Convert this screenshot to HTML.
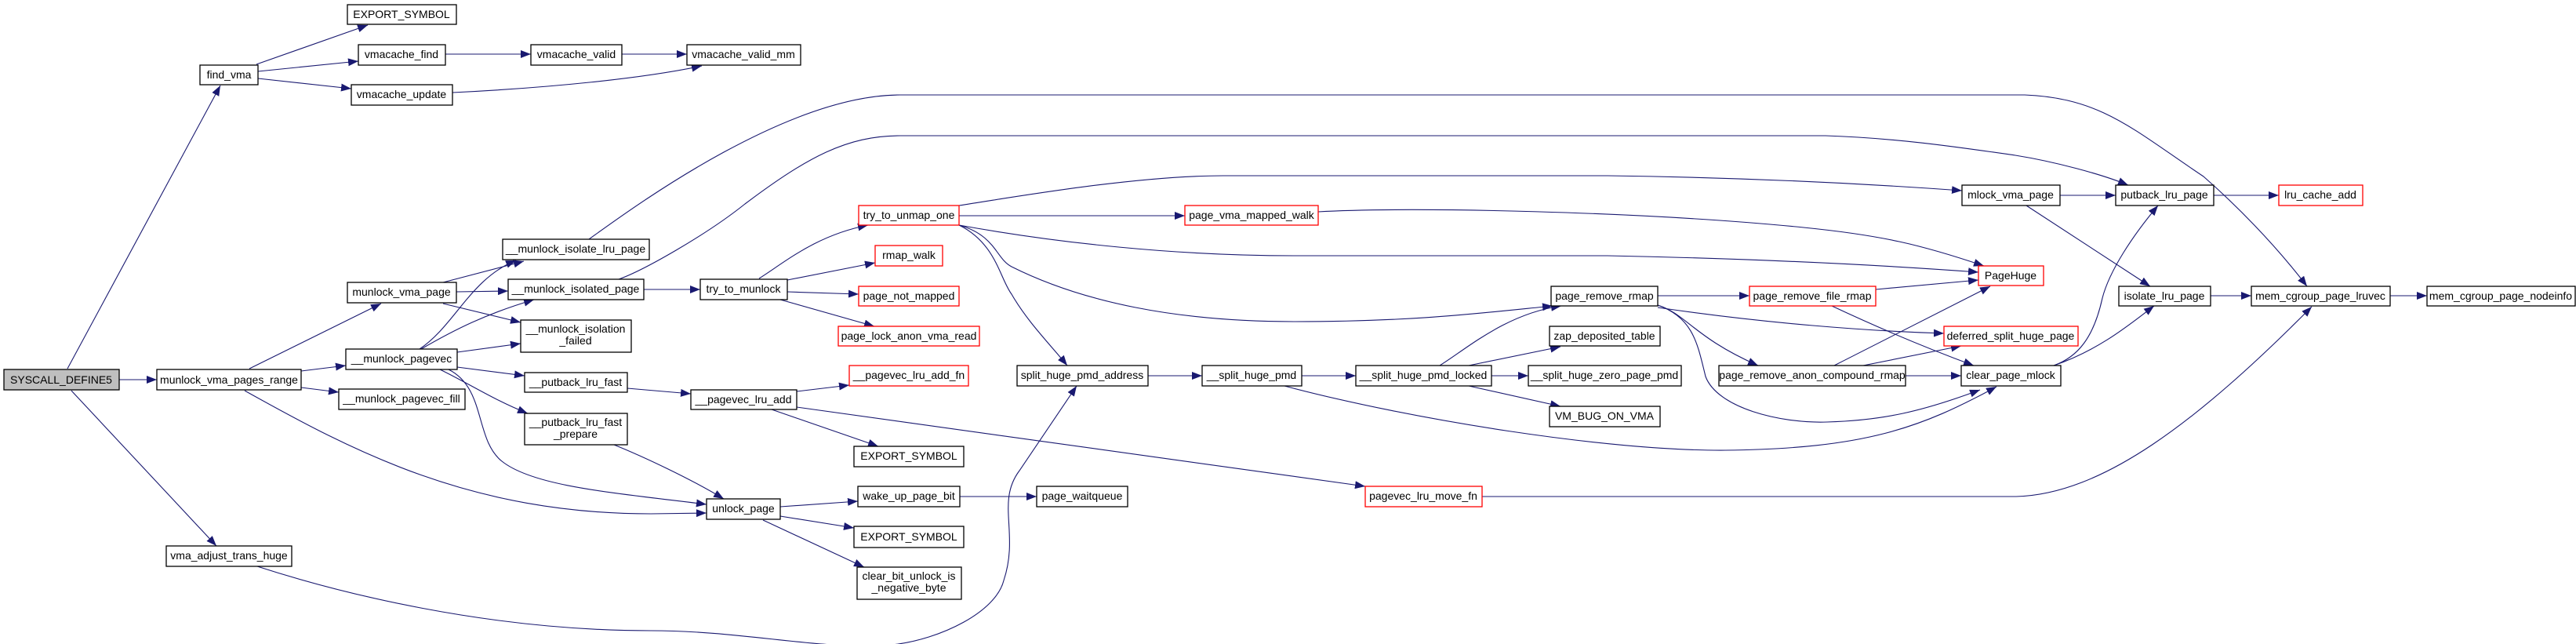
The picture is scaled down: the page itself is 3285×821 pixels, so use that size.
<!DOCTYPE html>
<html><head><meta charset="utf-8"><style>
html,body{margin:0;padding:0;background:#fff;}
svg{display:block;}
text{font-family:"Liberation Sans",sans-serif;font-size:14px;fill:#000;text-anchor:middle;}
.n{fill:#fff;stroke:#000;stroke-width:1.3;}
.r{fill:#fff;stroke:#ff0000;stroke-width:1.3;}
.g{fill:#bfbfbf;stroke:#000;stroke-width:1.3;}
.e{fill:none;stroke:#191970;stroke-width:1.1;marker-end:url(#a);}
</style></head><body>
<svg width="3285" height="821" viewBox="0 0 3285 821" xmlns="http://www.w3.org/2000/svg">
<defs><marker id="a" markerUnits="userSpaceOnUse" markerWidth="14" markerHeight="10" refX="13" refY="5" orient="auto"><path d="M0,0 L13,5 L0,10 z" fill="#191970"/></marker></defs>
<g>
<path class="e" d="M86,470 L281,109"/>
<path class="e" d="M152,484 L200,484"/>
<path class="e" d="M91,498 L276,696"/>
<path class="e" d="M327,82 L469,32"/>
<path class="e" d="M329,91 L457,78"/>
<path class="e" d="M329,100 L448,113"/>
<path class="e" d="M568,69 L677,69"/>
<path class="e" d="M793,69 L876,69"/>
<path class="e" d="M577,118 C700,112 820,100 895,84"/>
<path class="e" d="M318,470 L486,387"/>
<path class="e" d="M384,473 L441,466"/>
<path class="e" d="M384,494 L432,500"/>
<path class="e" d="M312,498 C450,575 600,655 830,655 L901,654"/>
<path class="e" d="M565,360 L668,333"/>
<path class="e" d="M582,372 L648,371"/>
<path class="e" d="M565,387 L664,411"/>
<path class="e" d="M535,445 C580,415 600,355 658,332"/>
<path class="e" d="M537,445 C580,420 620,400 681,382"/>
<path class="e" d="M583,449 L664,438"/>
<path class="e" d="M583,468 L669,479"/>
<path class="e" d="M561,471 C600,490 630,510 673,527"/>
<path class="e" d="M572,471 C620,495 605,560 640,588 C680,620 780,628 901,643"/>
<path class="e" d="M783,567 C820,582 880,610 923,636"/>
<path class="e" d="M800,495 L881,502"/>
<path class="e" d="M751,305 C800,270 1000,121 1148,121 L2582,121 C2680,125 2720,165 2810,225 C2850,260 2900,310 2942,365"/>
<path class="e" d="M789,356 C820,345 900,300 950,260 C1030,200 1080,173 1148,173 L2328,173 C2420,176 2500,188 2570,198 C2620,206 2680,222 2714,236"/>
<path class="e" d="M821,369 L893,369"/>
<path class="e" d="M968,355 C1000,335 1040,300 1107,287"/>
<path class="e" d="M1004,357 L1116,335"/>
<path class="e" d="M1004,372 L1095,375"/>
<path class="e" d="M995,382 L1115,416"/>
<path class="e" d="M1223,275 L1511,275"/>
<path class="e" d="M1223,262 C1300,250 1450,224 1560,224 L2050,224 C2200,226 2350,232 2502,243"/>
<path class="e" d="M1681,270 C1800,263 2100,270 2300,290 C2400,300 2450,312 2530,339"/>
<path class="e" d="M1223,287 C1350,310 1500,326 1650,326 L2050,326 C2250,330 2400,338 2523,347"/>
<path class="e" d="M1223,287 C1270,300 1270,330 1290,340 C1380,385 1500,410 1650,410 C1800,410 1880,400 1980,390"/>
<path class="e" d="M1223,287 C1270,310 1275,355 1290,375 C1310,410 1340,440 1361,466"/>
<path class="e" d="M1464,479 L1533,479"/>
<path class="e" d="M1660,479 L1729,479"/>
<path class="e" d="M1638,492 C1800,535 2050,575 2200,574 C2380,572 2450,545 2546,493"/>
<path class="e" d="M1836,466 C1870,445 1920,400 1991,390"/>
<path class="e" d="M1873,466 L1990,442"/>
<path class="e" d="M1902,479 L1949,479"/>
<path class="e" d="M1873,492 L1990,518"/>
<path class="e" d="M2114,377 L2231,377"/>
<path class="e" d="M2114,392 C2250,412 2380,422 2479,425"/>
<path class="e" d="M2114,389 C2150,400 2160,430 2242,466"/>
<path class="e" d="M2114,389 C2160,405 2165,440 2175,480 C2190,520 2270,540 2330,538 C2400,536 2450,525 2525,497"/>
<path class="e" d="M2392,369 L2523,357"/>
<path class="e" d="M2336,390 C2400,420 2460,445 2517,466"/>
<path class="e" d="M2339,466 C2400,435 2460,405 2538,365"/>
<path class="e" d="M2376,466 L2501,441"/>
<path class="e" d="M2430,479 L2501,479"/>
<path class="e" d="M2627,249 L2698,249"/>
<path class="e" d="M2584,262 L2742,365"/>
<path class="e" d="M2823,249 L2906,249"/>
<path class="e" d="M2819,377 L2871,377"/>
<path class="e" d="M3048,377 L3095,377"/>
<path class="e" d="M2619,466 C2650,455 2670,430 2681,380 C2690,345 2720,300 2752,262"/>
<path class="e" d="M2619,466 C2680,445 2720,410 2747,390"/>
<path class="e" d="M1890,633 L2571,633 C2680,630 2800,540 2948,391"/>
<path class="e" d="M1016,499 L1083,491"/>
<path class="e" d="M984,522 L1120,569"/>
<path class="e" d="M1016,519 L1741,620"/>
<path class="e" d="M995,646 L1094,639"/>
<path class="e" d="M995,658 L1089,673"/>
<path class="e" d="M973,663 L1102,723"/>
<path class="e" d="M1224,633 L1322,633"/>
<path class="e" d="M328,722 C430,755 620,804 830,804 C950,804 1050,830 1138,822 C1200,815 1270,780 1280,740 C1300,680 1270,640 1300,600 L1373,492"/>
</g>
<g>
<rect class="g" x="5" y="471" width="147" height="26"/><text x="78" y="489">SYSCALL_DEFINE5</text>
<rect class="n" x="255" y="83" width="74" height="25"/><text x="292" y="100">find_vma</text>
<rect class="n" x="443" y="6" width="139" height="25"/><text x="512" y="23">EXPORT_SYMBOL</text>
<rect class="n" x="457" y="57" width="111" height="26"/><text x="512" y="74">vmacache_find</text>
<rect class="n" x="448" y="108" width="129" height="26"/><text x="512" y="125">vmacache_update</text>
<rect class="n" x="677" y="57" width="116" height="26"/><text x="735" y="74">vmacache_valid</text>
<rect class="n" x="876" y="57" width="145" height="26"/><text x="948" y="74">vmacache_valid_mm</text>
<rect class="n" x="200" y="471" width="184" height="26"/><text x="292" y="489">munlock_vma_pages_range</text>
<rect class="n" x="212" y="696" width="160" height="26"/><text x="292" y="713">vma_adjust_trans_huge</text>
<rect class="n" x="443" y="360" width="139" height="26"/><text x="512" y="377">munlock_vma_page</text>
<rect class="n" x="441" y="445" width="142" height="26"/><text x="512" y="462">__munlock_pagevec</text>
<rect class="n" x="432" y="496" width="161" height="26"/><text x="512" y="513">__munlock_pagevec_fill</text>
<rect class="n" x="641" y="305" width="187" height="26"/><text x="734" y="322">__munlock_isolate_lru_page</text>
<rect class="n" x="648" y="356" width="173" height="26"/><text x="734" y="373">__munlock_isolated_page</text>
<rect class="n" x="664" y="408" width="141" height="41"/><text x="734" y="424">__munlock_isolation</text><text x="734" y="439">_failed</text>
<rect class="n" x="669" y="475" width="131" height="25"/><text x="734" y="492">__putback_lru_fast</text>
<rect class="n" x="669" y="527" width="131" height="40"/><text x="734" y="543">__putback_lru_fast</text><text x="734" y="558">_prepare</text>
<rect class="r" x="1095" y="262" width="128" height="25"/><text x="1159" y="279">try_to_unmap_one</text>
<rect class="r" x="1116" y="313" width="86" height="26"/><text x="1159" y="330">rmap_walk</text>
<rect class="n" x="893" y="356" width="111" height="26"/><text x="948" y="373">try_to_munlock</text>
<rect class="r" x="1095" y="365" width="128" height="25"/><text x="1159" y="382">page_not_mapped</text>
<rect class="r" x="1069" y="416" width="180" height="25"/><text x="1159" y="433">page_lock_anon_vma_read</text>
<rect class="r" x="1083" y="466" width="152" height="26"/><text x="1159" y="483">__pagevec_lru_add_fn</text>
<rect class="n" x="881" y="497" width="135" height="25"/><text x="948" y="514">__pagevec_lru_add</text>
<rect class="n" x="1089" y="569" width="140" height="26"/><text x="1159" y="586">EXPORT_SYMBOL</text>
<rect class="n" x="1297" y="466" width="167" height="26"/><text x="1380" y="483">split_huge_pmd_address</text>
<rect class="n" x="1533" y="466" width="127" height="26"/><text x="1596" y="483">__split_huge_pmd</text>
<rect class="n" x="901" y="636" width="94" height="26"/><text x="948" y="653">unlock_page</text>
<rect class="n" x="1094" y="620" width="130" height="26"/><text x="1159" y="637">wake_up_page_bit</text>
<rect class="n" x="1322" y="620" width="116" height="26"/><text x="1380" y="637">page_waitqueue</text>
<rect class="n" x="1089" y="671" width="140" height="27"/><text x="1159" y="689">EXPORT_SYMBOL</text>
<rect class="n" x="1093" y="723" width="133" height="41"/><text x="1159" y="739">clear_bit_unlock_is</text><text x="1159" y="754">_negative_byte</text>
<rect class="r" x="1511" y="262" width="170" height="25"/><text x="1596" y="279">page_vma_mapped_walk</text>
<rect class="n" x="1978" y="365" width="136" height="25"/><text x="2046" y="382">page_remove_rmap</text>
<rect class="r" x="2231" y="365" width="161" height="25"/><text x="2311" y="382">page_remove_file_rmap</text>
<rect class="n" x="1976" y="416" width="141" height="25"/><text x="2046" y="433">zap_deposited_table</text>
<rect class="n" x="1729" y="466" width="173" height="26"/><text x="1815" y="483">__split_huge_pmd_locked</text>
<rect class="n" x="1949" y="466" width="195" height="26"/><text x="2046" y="483">__split_huge_zero_page_pmd</text>
<rect class="n" x="1976" y="518" width="141" height="26"/><text x="2046" y="535">VM_BUG_ON_VMA</text>
<rect class="n" x="2192" y="466" width="238" height="26"/><text x="2311" y="483">page_remove_anon_compound_rmap</text>
<rect class="r" x="1741" y="620" width="149" height="26"/><text x="1815" y="637">pagevec_lru_move_fn</text>
<rect class="n" x="2502" y="236" width="125" height="26"/><text x="2564" y="253">mlock_vma_page</text>
<rect class="n" x="2698" y="236" width="125" height="26"/><text x="2760" y="253">putback_lru_page</text>
<rect class="r" x="2906" y="236" width="107" height="26"/><text x="2959" y="253">lru_cache_add</text>
<rect class="r" x="2523" y="339" width="83" height="25"/><text x="2564" y="356">PageHuge</text>
<rect class="r" x="2479" y="416" width="171" height="25"/><text x="2564" y="433">deferred_split_huge_page</text>
<rect class="n" x="2501" y="466" width="127" height="26"/><text x="2564" y="483">clear_page_mlock</text>
<rect class="n" x="2702" y="365" width="117" height="25"/><text x="2760" y="382">isolate_lru_page</text>
<rect class="n" x="2871" y="365" width="177" height="25"/><text x="2959" y="382">mem_cgroup_page_lruvec</text>
<rect class="n" x="3095" y="365" width="189" height="25"/><text x="3189" y="382">mem_cgroup_page_nodeinfo</text>
</g>
</svg>
</body></html>
